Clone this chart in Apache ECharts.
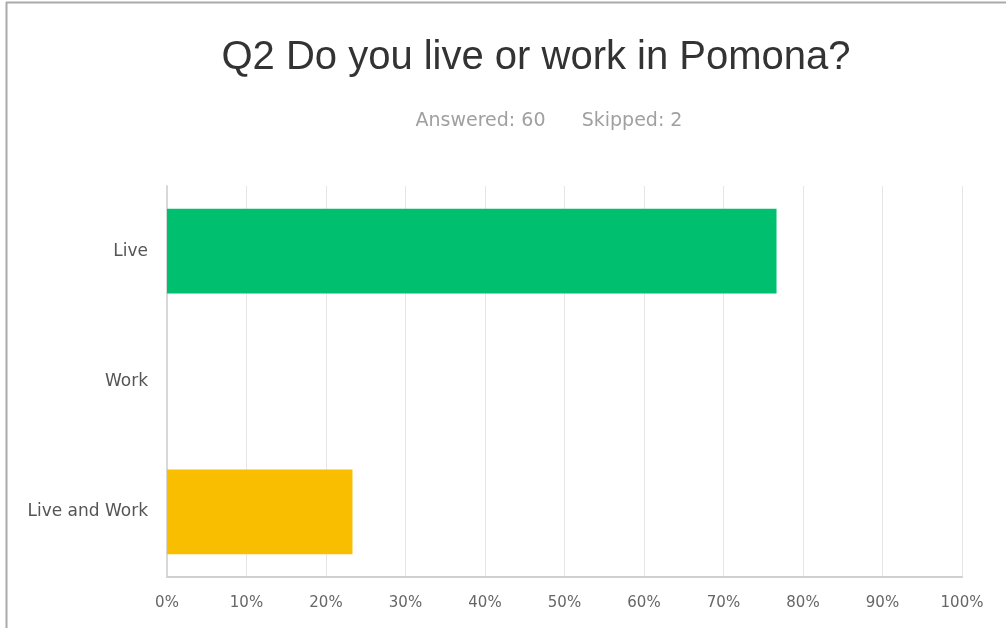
<!DOCTYPE html>
<html>
<head>
<meta charset="utf-8">
<script src="https://cdn.jsdelivr.net/npm/echarts@6/dist/echarts.min.js"></script>
<style>
  html, body { margin: 0; padding: 0; background: #fff; }
  #chart { width: 1006px; height: 628px; }
</style>
</head>
<body>
<div id="chart"></div>
<script>
// Survey question and response counts
const questionTitle = 'Q2 Do you live or work in Pomona?';
const answeredCount = 60;
const skippedCount = 2;

// Answer choices (top to bottom) and share of respondents, in percent
const categories = ['Live', 'Work', 'Live and Work'];
const percentValues = [76.67, 0, 23.33];
const barColors = ['#00bf6f', '#00bf6f', '#f9be00'];

// Percent ticks on the value axis
const tickStep = 10;
const tickMax = 100;

const labelFont = 'DejaVu Sans, Verdana, sans-serif';

const chart = echarts.init(document.getElementById('chart'), null, { renderer: 'canvas' });

chart.setOption({
  backgroundColor: '#ffffff',
  animation: false,
  title: [
    {
      text: questionTitle,
      left: 531, top: 33, textAlign: 'center',
      textStyle: { fontFamily: 'Liberation Sans, Arial, sans-serif', fontSize: 40, fontWeight: 'normal', color: '#333333' }
    },
    {
      text: 'Answered: ' + answeredCount + '      Skipped: ' + skippedCount,
      left: 544, top: 107, textAlign: 'center',
      textStyle: { fontFamily: labelFont, fontSize: 19, fontWeight: 'normal', color: '#a0a0a0' }
    }
  ],
  graphic: [
    { type: 'line', shape: { x1: 6, y1: 2.5, x2: 1006, y2: 2.5 }, style: { stroke: '#aaaaaa', lineWidth: 2 } },
    { type: 'line', shape: { x1: 6.5, y1: 2, x2: 6.5, y2: 628 }, style: { stroke: '#aaaaaa', lineWidth: 2 } }
  ],
  grid: { left: 167, right: 44, top: 186, bottom: 51, containLabel: false },
  xAxis: {
    type: 'value',
    min: 0, max: tickMax, interval: tickStep,
    axisLine: { show: true, lineStyle: { color: '#d0d0d0', width: 2 } },
    axisTick: { show: false },
    splitLine: { show: true, lineStyle: { color: '#e6e6e6', width: 1 } },
    axisLabel: {
      formatter: v => v + '%',
      margin: 19,
      fontFamily: labelFont, fontSize: 15, color: '#666666'
    }
  },
  yAxis: {
    type: 'category',
    data: categories,
    inverse: true,
    axisLine: { show: true, lineStyle: { color: '#d8d8d8', width: 2 } },
    axisTick: { show: false },
    splitLine: { show: false },
    axisLabel: {
      margin: 19,
      fontFamily: labelFont, fontSize: 17, color: '#555555'
    }
  },
  series: [{
    type: 'bar',
    data: percentValues.map((v, i) => ({ value: v, itemStyle: { color: barColors[i] } })),
    barCategoryGap: '35%',
    label: { show: false }
  }]
});
</script>
</body>
</html>
